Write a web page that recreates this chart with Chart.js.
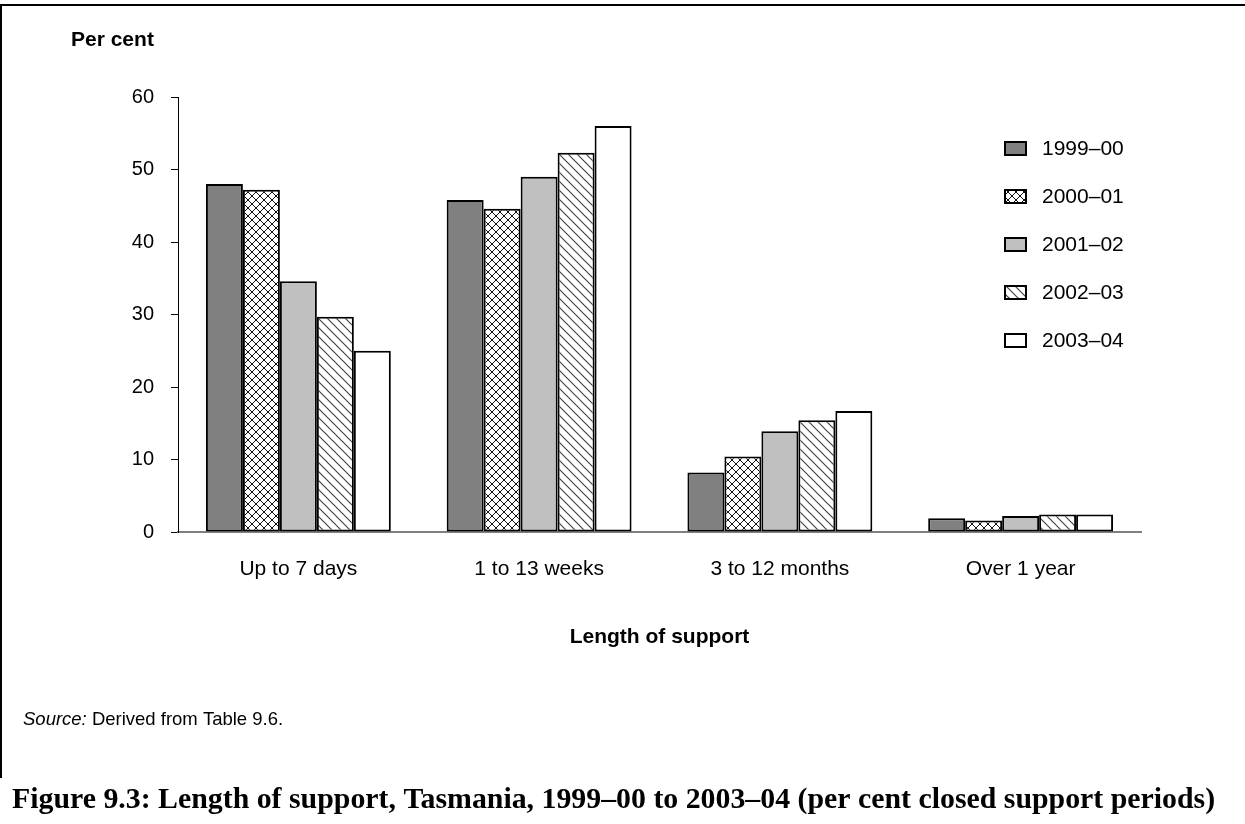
<!DOCTYPE html>
<html>
<head>
<meta charset="utf-8">
<script src="https://cdn.jsdelivr.net/npm/chart.js@4"></script>
<style>
  html, body { margin: 0; padding: 0; background: #fff; }
  #wrap { position: relative; width: 1245px; height: 824px; }
</style>
</head>
<body>
<div id="wrap"><canvas id="chart" width="1245" height="824"></canvas></div>
<script>
const categories = ['Up to 7 days', '1 to 13 weeks', '3 to 12 months', 'Over 1 year'];
const seriesLabels = ['1999–00', '2000–01', '2001–02', '2002–03', '2003–04'];
const v1999 = [48.0, 45.8, 8.2, 1.9];
const v2000 = [47.2, 44.6, 10.4, 1.6];
const v2001 = [34.6, 49.0, 13.9, 2.2];
const v2002 = [29.7, 52.3, 15.4, 2.4];
const v2003 = [25.0, 56.0, 16.7, 2.4];
const yMin = 0;
const yMax = 60;
const yStep = 10;

const FONT = "'Liberation Sans', Arial, sans-serif";

function crossHatch() {
  const c = document.createElement('canvas');
  c.width = c.height = 8;
  const g = c.getContext('2d');
  g.fillStyle = '#fff';
  g.fillRect(0, 0, 8, 8);
  g.strokeStyle = '#111';
  g.lineWidth = 1;
  g.beginPath();
  g.moveTo(0, 0); g.lineTo(8, 8);
  g.moveTo(8, 0); g.lineTo(0, 8);
  g.stroke();
  return g.createPattern(c, 'repeat');
}

function diagonal() {
  const c = document.createElement('canvas');
  c.width = c.height = 9;
  const g = c.getContext('2d');
  g.fillStyle = '#fff';
  g.fillRect(0, 0, 9, 9);
  g.strokeStyle = '#444';
  g.lineWidth = 1.2;
  g.beginPath();
  [-9, 0, 9].forEach((o) => { g.moveTo(o - 1, -1); g.lineTo(o + 10, 10); });
  g.stroke();
  return g.createPattern(c, 'repeat');
}

const fills = ['#808080', crossHatch(), '#c0c0c0', diagonal(), '#ffffff'];
const values = [v1999, v2000, v2001, v2002, v2003];

const decor = {
  id: 'decor',
  afterDraw(chart) {
    const ctx = chart.ctx;
    ctx.save();
    // frame
    ctx.strokeStyle = '#000';
    ctx.lineWidth = 2;
    ctx.beginPath();
    ctx.moveTo(0, 5); ctx.lineTo(1245, 5);
    ctx.moveTo(1, 5); ctx.lineTo(1, 778);
    ctx.stroke();

    ctx.fillStyle = '#000';
    ctx.textBaseline = 'middle';
    ctx.font = 'bold 21px ' + FONT;
    ctx.textAlign = 'left';
    ctx.fillText('Per cent', 71, 40);
    ctx.textAlign = 'center';
    ctx.fillText('Length of support', (chart.chartArea.left + chart.chartArea.right) / 2, 637);

    // legend
    ctx.textAlign = 'left';
    ctx.font = '21px ' + FONT;
    chart.data.datasets.forEach((ds, i) => {
      const y = 148 + i * 48;
      ctx.fillStyle = ds.backgroundColor;
      ctx.fillRect(1005, y - 6, 21, 13);
      ctx.strokeStyle = '#000';
      ctx.lineWidth = 2;
      ctx.strokeRect(1005, y - 6, 21, 13);
      ctx.fillStyle = '#000';
      ctx.fillText(ds.label, 1042, y + 1);
    });

    // source
    ctx.font = 'italic 18.5px ' + FONT;
    ctx.fillText('Source:', 23, 720);
    const w = ctx.measureText('Source:').width;
    ctx.font = '18.5px ' + FONT;
    ctx.fillText(' Derived from Table 9.6.', 23 + w, 720);

    // caption, fitted to the printed width
    const cap = 'Figure 9.3: Length of support, Tasmania, 1999–00 to 2003–04 (per cent closed support periods)';
    ctx.font = 'bold 24px "Liberation Serif", "DejaVu Serif", serif';
    const cw = ctx.measureText(cap).width;
    const size = 24 * 1203 / cw;
    ctx.font = 'bold ' + size.toFixed(2) + 'px "Liberation Serif", "DejaVu Serif", serif';
    ctx.fillText(cap, 12, 800);
    ctx.restore();
  }
};

new Chart(document.getElementById('chart'), {
  type: 'bar',
  data: {
    labels: categories,
    datasets: seriesLabels.map((label, i) => ({
      label,
      data: values[i],
      backgroundColor: fills[i],
      borderColor: '#000',
      borderWidth: 2,
      borderSkipped: false,
      categoryPercentage: 0.768,
      barPercentage: 1.0
    }))
  },
  options: {
    responsive: false,
    animation: false,
    layout: { padding: { left: 118, top: 97, right: 104, bottom: 232 } },
    plugins: { legend: { display: false }, tooltip: { enabled: false } },
    scales: {
      x: {
        afterFit: (s) => { s.height = 60; },
        grid: { display: false, drawTicks: false },
        border: { display: true, color: '#808080', width: 2 },
        ticks: { color: '#000', font: { family: FONT, size: 21 }, padding: 25 }
      },
      y: {
        min: yMin,
        max: yMax,
        afterFit: (s) => { s.width = 60; },
        grid: { drawOnChartArea: false, drawTicks: true, tickLength: 7, color: '#000' },
        border: { display: true, color: '#000', width: 1 },
        ticks: { stepSize: yStep, color: '#000', font: { family: FONT, size: 20 }, padding: 17 }
      }
    }
  },
  plugins: [decor]
});
</script>
</body>
</html>
